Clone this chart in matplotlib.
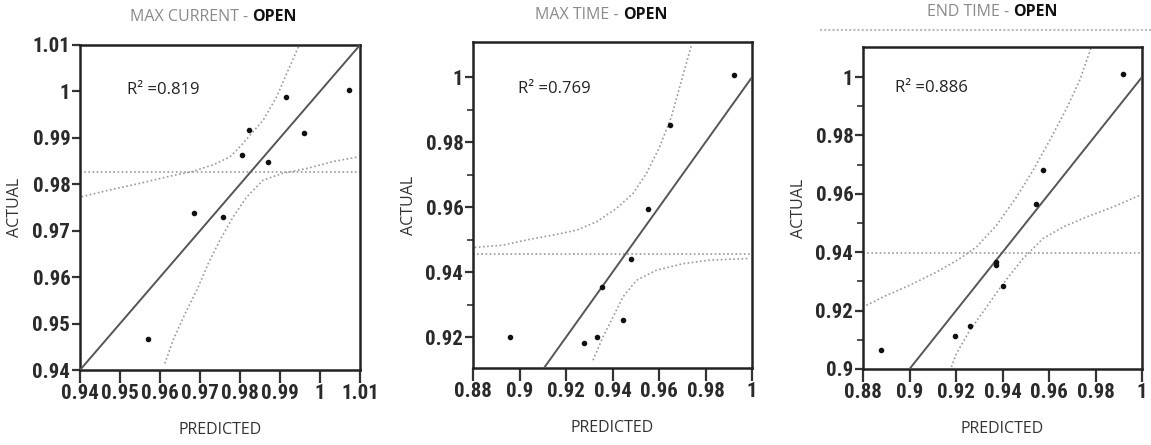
import numpy as np
import matplotlib.pyplot as plt
from matplotlib import font_manager
from matplotlib.lines import Line2D

# --- data ---
# panel 1: MAX CURRENT
mc_pred = [0.957, 0.9686, 0.9757, 0.9804, 0.9823, 0.9871, 0.9915, 0.9961, 1.0073]
mc_act = [0.9467, 0.9738, 0.9729, 0.9862, 0.9917, 0.9849, 0.9987, 0.9911, 1.0003]
mc_mean = 0.9827
mc_up_x = [0.9404, 0.9475, 0.955, 0.9617, 0.9679, 0.9733, 0.9775, 0.980, 0.9825,
           0.9858, 0.9892, 0.9917, 0.9946]
mc_up_y = [0.9773, 0.9788, 0.9802, 0.9816, 0.9827, 0.9842, 0.9859, 0.9881, 0.9906,
           0.9938, 0.9989, 1.0039, 1.0096]
mc_lo_x = [0.9612, 0.9633, 0.9663, 0.9692, 0.9721, 0.975, 0.9783, 0.9817, 0.9858,
           0.9908, 0.9967, 1.0033, 1.0096]
mc_lo_y = [0.9414, 0.9465, 0.9522, 0.9572, 0.963, 0.968, 0.973, 0.9773, 0.9809,
           0.9824, 0.9834, 0.9849, 0.9859]

# panel 2: MAX TIME
mt_pred = [0.8961, 0.9277, 0.9335, 0.9355, 0.9445, 0.9478, 0.9553, 0.9646, 0.9923]
mt_act = [0.9201, 0.9181, 0.9201, 0.9355, 0.9254, 0.9439, 0.9595, 0.9852, 1.0006]
mt_mean = 0.9455
mt_up_x = [0.8807, 0.8929, 0.9044, 0.9144, 0.9245, 0.9331, 0.9417, 0.9488, 0.9546,
           0.9603, 0.9653, 0.9689, 0.9725, 0.9739]
mt_up_y = [0.9476, 0.9483, 0.9501, 0.9514, 0.9529, 0.9555, 0.9596, 0.9642, 0.9704,
           0.9786, 0.9878, 0.997, 1.0062, 1.0098]
mt_lo_x = [0.9316, 0.9359, 0.9402, 0.9445, 0.9503, 0.9589, 0.9703, 0.9818, 0.999]
mt_lo_y = [0.9129, 0.9201, 0.9262, 0.9324, 0.9375, 0.9406, 0.9426, 0.9437, 0.9442]

# panel 3: END TIME
et_pred = [0.8876, 0.9197, 0.9259, 0.937, 0.937, 0.940, 0.9546, 0.9574, 0.9918]
et_act = [0.9064, 0.9113, 0.9147, 0.9366, 0.9355, 0.9283, 0.9566, 0.968, 1.0011]
et_mean = 0.9398
et_up_x = [0.8814, 0.890, 0.9001, 0.9116, 0.9216, 0.9288, 0.9374, 0.946, 0.9531,
           0.9603, 0.9675, 0.9732, 0.9782]
et_up_y = [0.9218, 0.9252, 0.9287, 0.9332, 0.9378, 0.9418, 0.9492, 0.9589, 0.968,
           0.9783, 0.9892, 0.9989, 1.0103]
et_lo_x = [0.918, 0.9202, 0.9259, 0.9331, 0.9402, 0.9488, 0.9574, 0.966, 0.9761,
           0.9875, 0.999]
et_lo_y = [0.9007, 0.9053, 0.9132, 0.9212, 0.9292, 0.9378, 0.9447, 0.9486, 0.9521,
           0.9555, 0.9595]

panels = [
    dict(title='MAX CURRENT - ', split=252, ty=17, pos=[0.0695, 0.1685, 0.2433, 0.7305],
         pred=mc_pred, act=mc_act, mean=mc_mean,
         up=(mc_up_x, mc_up_y), lo=(mc_lo_x, mc_lo_y), r2='0.819',
         xlim=(0.94, 1.01), ylim=(0.94, 1.01),
         xt=np.arange(0.94, 1.0101, 0.01), yt=np.arange(0.94, 1.0101, 0.01),
         r2pos=(0.9518, 1.0003), ylab_x=-0.204, minor=False),
    dict(title='MAX TIME - ', split=623, ty=15, pos=[0.411, 0.173, 0.2424, 0.7326],
         pred=mt_pred, act=mt_act, mean=mt_mean,
         up=(mt_up_x, mt_up_y), lo=(mt_lo_x, mt_lo_y), r2='0.769',
         xlim=(0.88, 1.0), ylim=(0.9105, 1.0108),
         xt=np.arange(0.88, 1.001, 0.02), yt=np.arange(0.92, 1.001, 0.02),
         r2pos=(0.8994, 0.9963), ylab_x=-0.2, minor=True),
    dict(title='END TIME - ', split=1013, ty=12, pos=[0.7498, 0.1708, 0.2424, 0.7236],
         pred=et_pred, act=et_act, mean=et_mean,
         up=(et_up_x, et_up_y), lo=(et_lo_x, et_lo_y), r2='0.886',
         xlim=(0.88, 1.0), ylim=(0.9, 1.0103),
         xt=np.arange(0.88, 1.001, 0.02), yt=np.arange(0.90, 1.001, 0.02),
         r2pos=(0.8938, 0.9962), ylab_x=-0.2, minor=True),
]

# pick a narrow face for the tick numbers if one is installed
installed = {f.name for f in font_manager.fontManager.ttflist}
narrow = [f for f in ['Liberation Sans Narrow', 'Roboto Condensed', 'DejaVu Sans Condensed',
                      'Noto Sans Condensed', 'Open Sans Condensed', 'Roboto']
          if f in installed]
tick_font = narrow[:1] + ['DejaVu Sans']
text_font = ['Open Sans', 'DejaVu Sans']


def fmt(v):
    s = '%.2f' % v
    s = s.rstrip('0').rstrip('.')
    return s


W, H = 1151, 445
fig = plt.figure(figsize=(W / 100, H / 100), dpi=100)

for p in panels:
    ax = fig.add_axes(p['pos'])
    x0, x1 = p['xlim']

    # y = x line
    ax.plot([x0, x1], [x0, x1], color='#555555', lw=1.4, zorder=3)
    # mean line and confidence curves
    ax.axhline(p['mean'], color='#9a9a9a', lw=1.2, ls=(0, (1, 1.5)), zorder=2)
    ax.plot(*p['up'], color='#9a9a9a', lw=1.2, ls=(0, (1, 1.5)), zorder=2)
    ax.plot(*p['lo'], color='#9a9a9a', lw=1.2, ls=(0, (1, 1.5)), zorder=2)
    # points
    ax.plot(p['pred'], p['act'], 'o', color='#111111', ms=3, zorder=4)

    ax.set_xlim(p['xlim'])
    ax.set_ylim(p['ylim'])
    ax.set_xticks(p['xt'])
    ax.set_yticks(p['yt'])
    ax.set_xticklabels([fmt(v) for v in p['xt']], family=tick_font, fontstretch='condensed',
                       fontsize=15, fontweight='bold', color='#2a2a2a')
    ax.set_yticklabels([fmt(v) for v in p['yt']], family=tick_font, fontstretch='condensed',
                       fontsize=15, fontweight='bold', color='#2a2a2a')
    if p['minor']:
        ax.set_yticks(p['yt'][:-1] + 0.01, minor=True)
        ax.tick_params(axis='y', which='minor', length=4, width=1.2, color='#333333')
    ax.tick_params(axis='x', which='major', length=9, width=1.6, pad=1, color='#333333')
    ax.tick_params(axis='y', which='major', length=6, width=1.6, pad=1, color='#333333')
    for s in ax.spines.values():
        s.set_linewidth(1.8)
        s.set_color('#222222')

    ax.text(*p['r2pos'], 'R² =' + p['r2'], family=text_font, fontsize=12,
            color='#222222', va='center', ha='left')

    ax.set_ylabel('ACTUAL', family=text_font, fontsize=11.5, color='#333333')
    ax.yaxis.set_label_coords(p['ylab_x'], 0.5)
    ax.set_xlabel('PREDICTED', family=text_font, fontsize=11.5, color='#333333',
                  va='center')
    ax.xaxis.set_label_coords(0.5, -0.185)

    # two-tone title
    fy = 1 - p['ty'] / H
    fig.text(p['split'] / W, fy, p['title'], family=text_font, fontsize=11.5,
             color='#8a8a8a', ha='right', va='center')
    fig.text(p['split'] / W, fy, 'OPEN', family=text_font, fontsize=11.5,
             color='#111111', fontweight='bold', ha='left', va='center')

# faint scan line above the third panel
fig.add_artist(Line2D([820 / W, 1.0], [1 - 30 / H, 1 - 30 / H], color='#bbbbbb',
                      lw=1.5, ls=(0, (1, 1))))

fig.savefig('out.png', dpi=100)
